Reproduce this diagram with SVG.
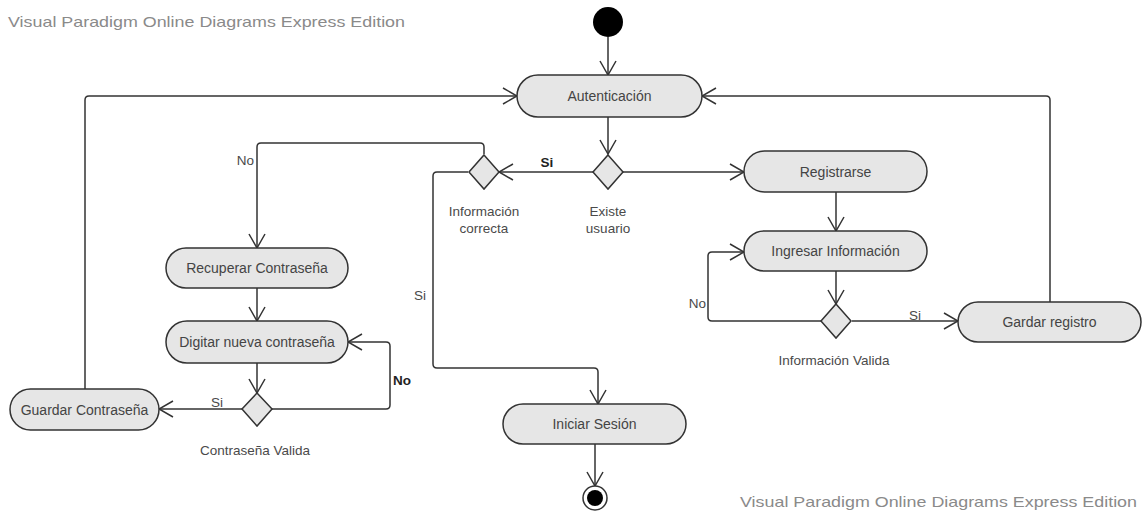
<svg xmlns="http://www.w3.org/2000/svg" width="1145" height="516" viewBox="0 0 1145 516">
<style>
.bg{fill:#ffffff}
.node rect{fill:#e6e6e6;stroke:#333333;stroke-width:1.5}
.node polygon{fill:#e6e6e6;stroke:#333333;stroke-width:1.5}
.t{font-family:"Liberation Sans",Arial,sans-serif;font-size:14px;fill:#444444;text-anchor:middle;dominant-baseline:central}
.lbl{font-family:"Liberation Sans",Arial,sans-serif;font-size:13.5px;fill:#4a4a4a;dominant-baseline:central}
.b{font-weight:bold;fill:#222222}
.wm{font-family:"Liberation Sans",Arial,sans-serif;font-size:15px;fill:#8a8a8a}
#connectors path{fill:none;stroke:#333333;stroke-width:1.5;marker-end:url(#arr)}
</style>
<defs>
<marker id="arr" markerUnits="userSpaceOnUse" viewBox="0 0 16 18" refX="15" refY="9" markerWidth="16" markerHeight="18" orient="auto">
<path d="M1,1 L15,9 L1,17" fill="none" stroke="#333333" stroke-width="1.5"/>
</marker>
</defs>
<rect class="bg" x="0" y="0" width="1145" height="516"/>
<text class="wm" x="8" y="27" textLength="397" lengthAdjust="spacingAndGlyphs">Visual Paradigm Online Diagrams Express Edition</text>
<text class="wm" x="740" y="507" textLength="397" lengthAdjust="spacingAndGlyphs">Visual Paradigm Online Diagrams Express Edition</text>

<g id="connectors">
<path d="M608,37 V75"/>
<path d="M608,117 V154"/>
<path d="M593,172 H499"/>
<path d="M623,172 H744"/>
<path d="M484,154 V147 Q484,143 480,143 H261 Q257,143 257,147 V248"/>
<path d="M468,172 H437 Q433,172 433,176 V364 Q433,368 437,368 H594 Q598,368 598,372 V404"/>
<path d="M257,288 V321"/>
<path d="M257,363 V393"/>
<path d="M242,409 H159"/>
<path d="M272,409 H386 Q390,409 390,405 V346 Q390,342 386,342 H348"/>
<path d="M85,389 V100 Q85,96 89,96 H517"/>
<path d="M1050,302 V100 Q1050,96 1046,96 H702"/>
<path d="M836,192 V231"/>
<path d="M836,271 V304"/>
<path d="M852,321 H958"/>
<path d="M821,321 H712 Q708,321 708,317 V256 Q708,252 712,252 H744"/>
<path d="M595,444 V486"/>
</g>

<g id="start"><circle cx="608" cy="22" r="15" fill="#000000"/></g>
<g id="end"><circle cx="595" cy="498" r="12" fill="#ffffff" stroke="#333333" stroke-width="1.5"/><circle cx="595" cy="498" r="8" fill="#000000"/></g>

<g id="autenticacion" class="node"><rect x="517" y="75" width="185" height="42" rx="21"/><text class="t" x="609.5" y="96">Autenticación</text></g>
<g id="existe-usuario" class="node"><polygon points="608,155 623,172 608,189 593,172"/><text class="lbl" x="608" y="211" text-anchor="middle">Existe</text><text class="lbl" x="608" y="228" text-anchor="middle">usuario</text></g>
<g id="informacion-correcta" class="node"><polygon points="484,155 499,172 484,189 469,172"/><text class="lbl" x="484" y="211" text-anchor="middle">Información</text><text class="lbl" x="484" y="228" text-anchor="middle">correcta</text></g>
<g id="registrarse" class="node"><rect x="744" y="151" width="183" height="41" rx="20.5"/><text class="t" x="835.5" y="171.5">Registrarse</text></g>
<g id="ingresar-informacion" class="node"><rect x="744" y="231" width="183" height="40" rx="20"/><text class="t" x="835.5" y="251">Ingresar Información</text></g>
<g id="informacion-valida" class="node"><polygon points="836,304 851,321 836,338 821,321"/><text class="lbl" x="834" y="360" text-anchor="middle">Información Valida</text></g>
<g id="gardar-registro" class="node"><rect x="958" y="302" width="183" height="40" rx="20"/><text class="t" x="1049.5" y="322">Gardar registro</text></g>
<g id="recuperar-contrasena" class="node"><rect x="166" y="248" width="182" height="40" rx="20"/><text class="t" x="257" y="268">Recuperar Contraseña</text></g>
<g id="digitar-nueva-contrasena" class="node"><rect x="166" y="321" width="182" height="42" rx="21"/><text class="t" x="257" y="342">Digitar nueva contraseña</text></g>
<g id="contrasena-valida" class="node"><polygon points="257,393 272,409 257,426 242,409"/><text class="lbl" x="255" y="450" text-anchor="middle">Contraseña Valida</text></g>
<g id="guardar-contrasena" class="node"><rect x="10" y="389" width="149" height="41" rx="20.5"/><text class="t" x="84.5" y="409.5">Guardar Contraseña</text></g>
<g id="iniciar-sesion" class="node"><rect x="503" y="404" width="183" height="40" rx="20"/><text class="t" x="594.5" y="424">Iniciar Sesión</text></g>

<g id="labels">
<text class="lbl b" x="547" y="162" text-anchor="middle">Si</text>
<text class="lbl" x="254" y="160" text-anchor="end">No</text>
<text class="lbl" x="420" y="295" text-anchor="middle">Si</text>
<text class="lbl" x="217" y="402" text-anchor="middle">Si</text>
<text class="lbl b" x="393" y="380">No</text>
<text class="lbl" x="706" y="303" text-anchor="end">No</text>
<text class="lbl" x="915" y="315" text-anchor="middle">Si</text>
</g>
</svg>
